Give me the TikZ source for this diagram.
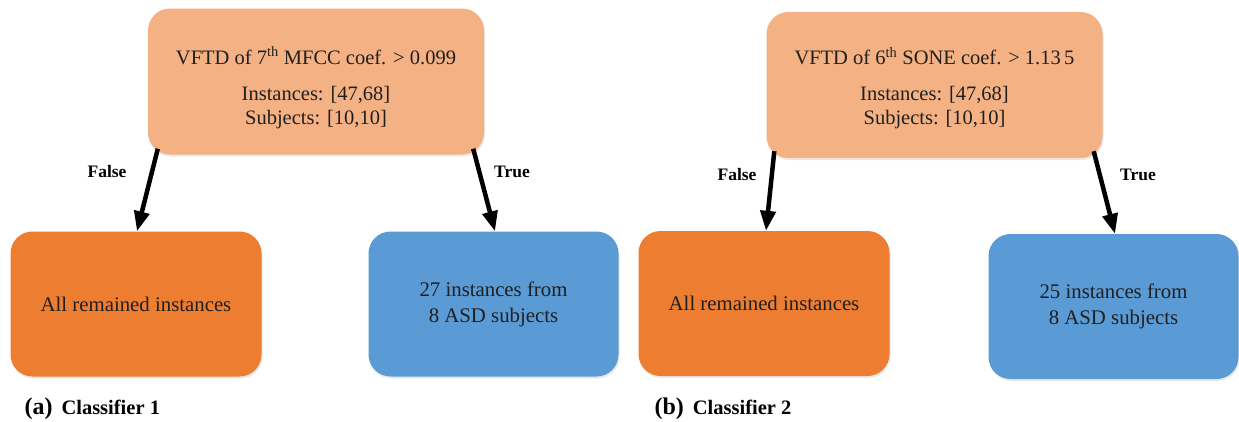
\documentclass[tikz,border=0pt]{standalone}
\usepackage{fontspec}
\setmainfont{Liberation Serif}
\usetikzlibrary{arrows.meta,calc,shadows}
\definecolor{peach}{HTML}{F4B183}
\definecolor{orng}{HTML}{ED7D31}
\definecolor{blu}{HTML}{5B9BD5}
\tikzset{
  boxbase/.style={rectangle, rounded corners=22pt, align=center, inner sep=0pt,
    font=\fontsize{20.8}{26}\selectfont, text=black!88,
    drop shadow={opacity=0.18, shadow xshift=1pt, shadow yshift=-2pt}},
  topbox/.style={boxbase, fill=peach, minimum width=336pt, minimum height=146pt},
  toptext/.style={align=center, inner sep=0pt, text=black!88, font=\fontsize{20.5}{24}\selectfont},
  leafA/.style={boxbase, fill=orng, minimum width=251pt, minimum height=145pt},
  leafB/.style={boxbase, fill=blu, minimum width=250pt, minimum height=145pt},
  conn/.style={line width=4.5pt, black, -{Triangle[length=20pt,width=15pt]}},
  lbl/.style={font=\bfseries\fontsize{17.5}{20}\selectfont},
  captxt/.style={font=\bfseries\fontsize{24}{28}\selectfont, anchor=west},
}
\begin{document}
\begin{tikzpicture}[x=1pt,y=-1pt]
\useasboundingbox (0,0) rectangle (1239,421);
% ---------- (a)
\node[topbox] (t1) at (316,81.5) {};
\node[toptext] (t1txt) at ($(t1.center)+(0,6)$) {VFTD of 7\textsuperscript{th} MFCC coef. > 0.099\\[12pt]Instances: [47,68]\\Subjects: [10,10]};
\node[leafA] (f1) at (136,304) {All remained instances};
\node[leafB] (r1) at (493.5,304) {27 instances from\\8 ASD subjects};
\draw[conn] ($(t1.south west)+(10,-6)$) -- (f1.north -| 137,0);
\draw[conn] ($(t1.south east)+(-11,-6)$) -- (r1.north -| 495,0);
\node[lbl] (fa) at (107,172) {False};
\node[lbl] (ta) at (512,172) {True};
\node[captxt] (ca) at (21,409) {(a)\hspace{9pt}{\fontsize{20.5}{24}\selectfont Classifier 1}};
% ---------- (b)
\node[topbox] (t2) at (934.5,85) {};
\node[toptext] (t2txt) at ($(t2.center)+(0,3)$) {VFTD of 6\textsuperscript{th} SONE coef. > 1.13\,5\\[12pt]Instances: [47,68]\\Subjects: [10,10]};
\node[leafA] (f2) at (764,303.5) {All remained instances};
\node[leafB] (r2) at (1113.5,306.5) {25 instances from\\8 ASD subjects};
\draw[conn] ($(t2.south west)+(8,-7)$) -- (f2.north -| 766,0);
\draw[conn] ($(t2.south east)+(-9,-7)$) -- (r2.north -| 1115,0);
\node[lbl] (fb) at (737,175) {False};
\node[lbl] (tb) at (1138,175) {True};
\node[captxt] (cb) at (651,409) {(b)\hspace{9pt}{\fontsize{20.5}{24}\selectfont Classifier 2}};
\end{tikzpicture}
\end{document}
